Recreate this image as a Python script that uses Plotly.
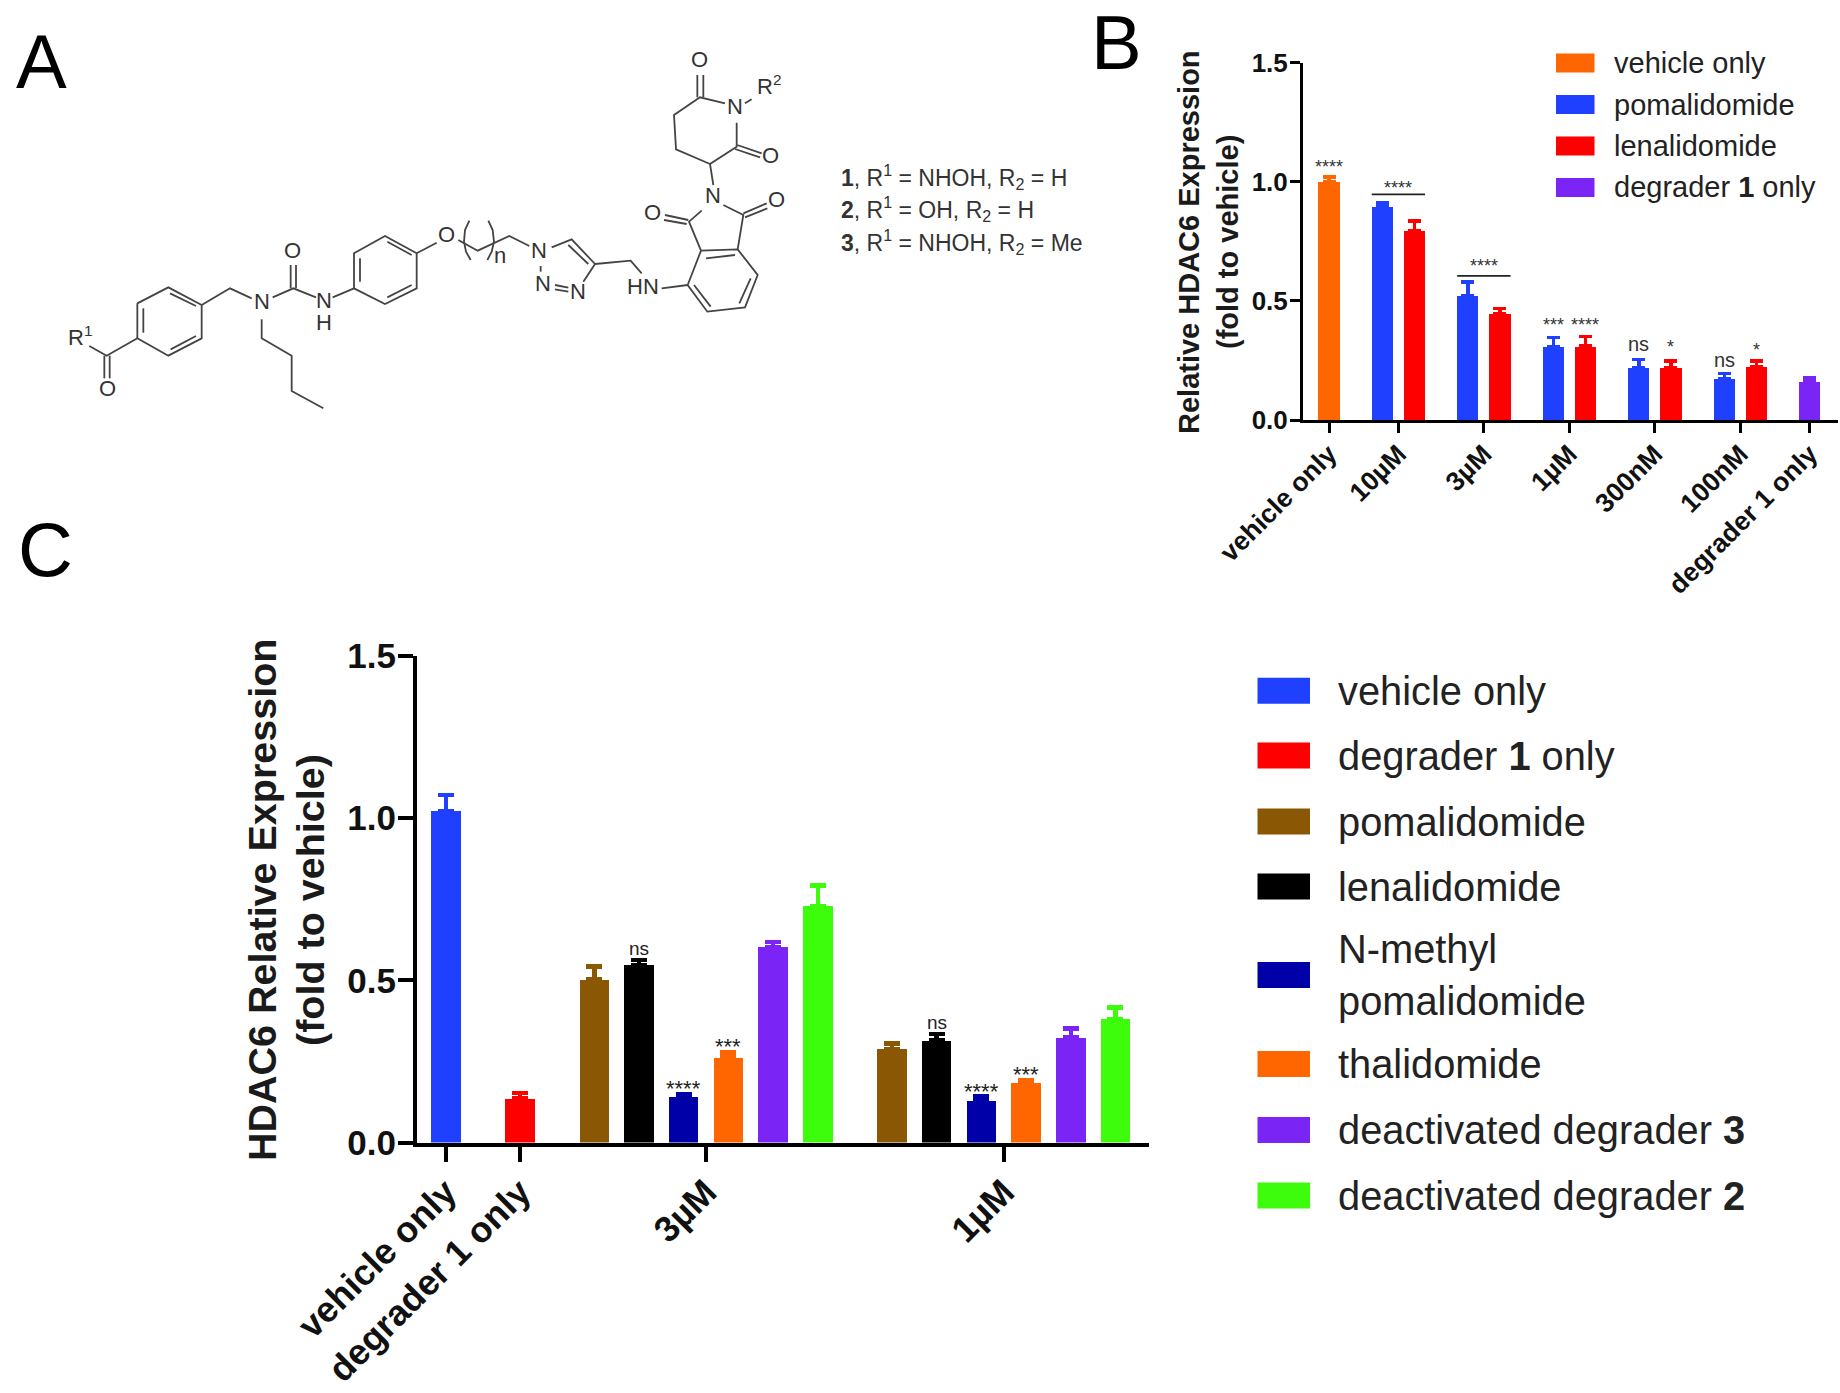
import plotly.graph_objects as go

W, H = 1840, 1393
FONT = "Liberation Sans"

# ---------- panel B data ----------
b_ticks = ["vehicle only", "10µM", "3µM", "1µM", "300nM", "100nM", "degrader 1 only"]
b_vehicle = [1.00]
b_vehicle_err = [0.02]
b_pom = [0.897, 0.521, 0.308, 0.219, 0.174]
b_pom_err = [0.016, 0.059, 0.039, 0.035, 0.022]
b_len = [0.794, 0.447, 0.310, 0.219, 0.223]
b_len_err = [0.040, 0.020, 0.040, 0.029, 0.025]
b_deg = [0.163]
b_deg_err = [0.015]
b_legend = ["vehicle only", "pomalidomide", "lenalidomide", "degrader <b>1</b> only"]

# ---------- panel C data ----------
c_ticks = ["vehicle only", "degrader 1 only", "3µM", "1µM"]
c_vehicle = [1.021]
c_vehicle_err = [0.050]
c_deg = [0.135]
c_deg_err = [0.018]
c_names = ["pomalidomide", "lenalidomide", "N-methyl pomalidomide", "thalidomide",
           "deactivated degrader 3", "deactivated degrader 2"]
c_3um = [0.502, 0.546, 0.139, 0.262, 0.603, 0.728]
c_3um_err = [0.041, 0.016, 0.011, 0.015, 0.015, 0.065]
c_1um = [0.287, 0.314, 0.129, 0.182, 0.323, 0.381]
c_1um_err = [0.018, 0.021, 0.013, 0.009, 0.028, 0.035]
c_legend = ["vehicle only", "degrader <b>1</b> only", "pomalidomide", "lenalidomide",
            "N-methyl<br>pomalidomide", "thalidomide",
            "deactivated degrader <b>3</b>", "deactivated degrader <b>2</b>"]

# ---------- colours ----------
ORANGE, BLUE, RED, PURPLE = "#ff6600", "#2040ff", "#ff0000", "#7a25f5"
BROWN, BLACK, NAVY, GREEN = "#8a5705", "#000000", "#0000a8", "#3dfc0c"
c_colors = [BROWN, BLACK, NAVY, ORANGE, PURPLE, GREEN]

GAP, BW = 1.66, 0.66
fig = go.Figure()


def add_bar(x, y, err, color, name, xa, ya, thick, cap):
    fig.add_trace(go.Bar(
        x=x, y=y, name=name, width=BW, xaxis=xa, yaxis=ya, marker=dict(color=color, line_width=0),
        error_y=dict(type="data", symmetric=False, array=err, arrayminus=[0] * len(err),
                     color=color, thickness=thick, width=cap),
        showlegend=False))


# panel B positions
bx_blue = [GAP + i * (1 + GAP) for i in range(5)]
bx_red = [v + 1 for v in bx_blue]
bx_deg = bx_red[-1] + GAP
b_tickx = [0] + [(a + b) / 2 for a, b in zip(bx_blue, bx_red)] + [bx_deg]
add_bar([0], b_vehicle, b_vehicle_err, ORANGE, "vehicle only", "x", "y", 3.5, 6.5)
add_bar(bx_blue, b_pom, b_pom_err, BLUE, "pomalidomide", "x", "y", 3.5, 6.5)
add_bar(bx_red, b_len, b_len_err, RED, "lenalidomide", "x", "y", 3.5, 6.5)
add_bar([bx_deg], b_deg, b_deg_err, PURPLE, "degrader 1 only", "x", "y", 3.5, 6.5)

# panel C positions
cx_3 = [2 * GAP + i for i in range(6)]
cx_1 = [v + 5 + GAP for v in cx_3]
c_tickx = [0, GAP, sum(cx_3) / 6, sum(cx_1) / 6]
add_bar([0], c_vehicle, c_vehicle_err, BLUE, "vehicle only", "x2", "y2", 4.5, 8)
add_bar([GAP], c_deg, c_deg_err, RED, "degrader 1 only", "x2", "y2", 4.5, 8)
for i, n in enumerate(c_names):
    add_bar([cx_3[i], cx_1[i]], [c_3um[i], c_1um[i]], [c_3um_err[i], c_1um_err[i]],
            c_colors[i], n, "x2", "y2", 4.5, 8)

# significance bars in panel B
for i, ylev in zip([0, 1], [0.947, 0.605]):
    fig.add_trace(go.Scatter(x=[bx_blue[i] - BW / 2, bx_red[i] + BW / 2], y=[ylev, ylev], mode="lines",
                             line=dict(color="#222222", width=1.8), xaxis="x", yaxis="y",
                             showlegend=False, hoverinfo="skip"))

# ---------- panel A: structure, as bond polylines read from crops ----------
# each crop: origin x, origin y; values in 3x crop pixels
bonds_left = [
    [(262, 280), (355, 232), (455, 285), (455, 385), (355, 437), (262, 385), (262, 280)],
    [(280, 295), (280, 368)], [(360, 250), (438, 288)], [(362, 418), (438, 378)],
    [(118, 408), (170, 437), (262, 385)], [(163, 437), (163, 505)], [(179, 437), (179, 505)],
    [(455, 285), (540, 235), (605, 265)],
    [(635, 328), (635, 385), (725, 437), (725, 543), (820, 595)],
    [(668, 262), (730, 235), (798, 262)], [(722, 235), (722, 165)], [(738, 235), (738, 165)],
    [(848, 262), (912, 235)],
    [(912, 235), (912, 130), (1005, 78), (1100, 130), (1100, 235), (1005, 282), (912, 235)],
    [(930, 215), (930, 145)], [(1012, 95), (1085, 135)], [(1012, 262), (1085, 225)],
    [(1100, 130), (1160, 98)],
    [(1225, 90), (1283, 122), (1378, 78), (1438, 108)],
    [(1258, 32), (1245, 60), (1242, 95), (1248, 125), (1262, 150)],
    [(1315, 32), (1328, 60), (1332, 95), (1325, 125), (1312, 150)],
]
bonds_mid = [
    [(122, 228), (122, 245)], [(165, 285), (205, 293)], [(165, 298), (205, 305)],
    [(250, 275), (285, 222), (215, 148), (155, 172)], [(265, 222), (205, 165)],
    [(285, 222), (392, 212), (425, 250)],
]
bonds_right = [
    [(125, 745), (203, 735)],
    [(243, 632), (353, 628), (413, 705), (375, 802), (262, 815), (203, 735), (243, 632)],
    [(258, 655), (345, 645)], [(392, 715), (358, 790)], [(222, 735), (272, 800)],
    [(245, 512), (207, 545), (243, 632)], [(353, 628), (370, 525), (310, 495)],
    [(205, 540), (135, 525)], [(200, 552), (132, 540)],
    [(370, 520), (440, 490)], [(375, 532), (442, 505)],
    [(280, 435), (270, 372), (350, 320), (350, 248)],
    [(315, 190), (240, 172), (162, 225), (168, 328), (270, 372)],
    [(232, 172), (232, 105)], [(250, 172), (250, 105)],
    [(352, 315), (425, 340)], [(345, 327), (420, 352)], [(375, 190), (395, 178)],
]
atoms_left = [("R<sup>1</sup>", 90, 378), ("O", 171, 535), ("N", 635, 275), ("O", 727, 120), ("N", 822, 272),
              ("H", 822, 338), ("O", 1190, 72), ("n", 1350, 135)]
atoms_mid = [("N", 118, 180), ("N", 130, 280), ("N", 235, 303), ("HN", 430, 288)]
atoms_right = [("N", 280, 465), ("O", 97, 517), ("O", 470, 478), ("O", 238, 58), ("N", 345, 200),
               ("O", 452, 347), ("R<sup>2</sup>", 447, 135)]
crops = [((50, 210), bonds_left, atoms_left), ((500, 190), bonds_mid, atoms_mid), ((620, 40), bonds_right, atoms_right)]
sx, sy = [], []
annots = []
for (ox, oy), bonds, atoms in crops:
    for b in bonds:
        sx += [ox + p[0] / 3 for p in b] + [None]
        sy += [oy + p[1] / 3 for p in b] + [None]
    for t, ax_, ay in atoms:
        annots.append(dict(text=t, x=ox + ax_ / 3, y=oy + ay / 3, xref="x3", yref="y3", showarrow=False,
                           font=dict(family=FONT, size=22, color="#333333")))
fig.add_trace(go.Scatter(x=sx, y=sy, mode="lines", line=dict(color="#444444", width=1.8), xaxis="x3", yaxis="y3",
                         showlegend=False, hoverinfo="skip", connectgaps=False))

compound_lines = ["<b>1</b>, R<sup>1</sup> = NHOH, R<sub>2</sub> = H",
                  "<b>2</b>, R<sup>1</sup> = OH, R<sub>2</sub> = H",
                  "<b>3</b>, R<sup>1</sup> = NHOH, R<sub>2</sub> = Me"]
for t, yy in zip(compound_lines, [177, 209, 242]):
    annots.append(dict(text=t, x=839, y=yy, xref="x3", yref="y3", xanchor="left", showarrow=False,
                       font=dict(family=FONT, size=23, color="#333333")))

# panel letters
for t, xx, yy in [("A", 41, 61), ("B", 1116, 42), ("C", 45, 549)]:
    annots.append(dict(text=t, x=xx, y=yy, xref="x3", yref="y3", showarrow=False,
                       font=dict(family=FONT, size=76, color="#000000")))

# manual legends
shapes = []
for t, c, yy in zip(b_legend, [ORANGE, BLUE, RED, PURPLE], [63, 104.6, 146, 187.4]):
    shapes.append(dict(type="rect", xref="x3", yref="y3", x0=1556, x1=1594.5, y0=yy - 9.5, y1=yy + 9.5,
                       fillcolor=c, line_width=0))
    annots.append(dict(text=t, x=1612, y=yy, xref="x3", yref="y3", xanchor="left", showarrow=False,
                       font=dict(family=FONT, size=29, color="#222222")))
for t, c, yy in zip(c_legend, [BLUE, RED, BROWN, BLACK, NAVY, ORANGE, PURPLE, GREEN],
                    [690.7, 755.5, 821.5, 886.5, 975, 1064, 1130, 1195.5]):
    shapes.append(dict(type="rect", xref="x3", yref="y3", x0=1257.5, x1=1310, y0=yy - 13, y1=yy + 13,
                       fillcolor=c, line_width=0))
    annots.append(dict(text=t, x=1336, y=yy, xref="x3", yref="y3", xanchor="left", align="left", showarrow=False,
                       font=dict(family=FONT, size=39.8, color="#222222")))

# axis titles
for t, xx, yy, s in [("Relative HDAC6 Expression", 1189, 242, 29), ("(fold to vehicle)", 1228, 242, 29),
                     ("HDAC6 Relative Expression", 262, 900, 39.5), ("(fold to vehicle)", 310, 900, 39.5)]:
    annots.append(dict(text=t, x=xx, y=yy, xref="x3", yref="y3", textangle=-90, showarrow=False,
                       font=dict(family=FONT, size=s, weight="bold", color="#1a1a1a")))

# significance labels
b_sig = [("****", 0, 1.06, 18), ("****", (bx_blue[0] + bx_red[0]) / 2, 0.975, 18),
         ("****", (bx_blue[1] + bx_red[1]) / 2, 0.645, 18),
         ("***", bx_blue[2], 0.40, 18), ("****", bx_red[2], 0.40, 18), ("ns", bx_blue[3], 0.32, 20), ("*", bx_red[3], 0.305, 18),
         ("ns", bx_blue[4], 0.25, 20), ("*", bx_red[4], 0.295, 18)]
for t, xx, yy, s in b_sig:
    annots.append(dict(text=t, x=xx, y=yy, xref="x", yref="y", showarrow=False,
                       font=dict(family=FONT, size=s, color="#333333")))
c_sig = [("ns", cx_3[1], 0.597, 19), ("***", cx_3[3], 0.296, 22), ("****", cx_3[2], 0.166, 22),
         ("ns", cx_1[1], 0.37, 19), ("****", cx_1[2], 0.156, 22), ("***", cx_1[3], 0.21, 22)]
for t, xx, yy, s in c_sig:
    annots.append(dict(text=t, x=xx, y=yy, xref="x2", yref="y2", showarrow=False,
                       font=dict(family=FONT, size=s, color="#222222")))


def px_x(a, b):
    return [a / W, b / W]


def px_y(top, bot):
    return [1 - bot / H, 1 - top / H]


def ax(size, lw, tl, standoff, **kw):
    return dict(showline=True, linecolor="#000000", linewidth=lw, ticks="outside", ticklen=tl, tickwidth=lw,
                tickcolor="#000000", showgrid=False, zeroline=False, automargin=False, ticklabelstandoff=standoff,
                tickfont=dict(family=FONT, size=size, weight="bold", color="#111111"), **kw)


fig.update_layout(
    width=W, height=H, margin=dict(l=0, r=0, t=0, b=0, pad=0), autosize=False, paper_bgcolor="white", plot_bgcolor="rgba(0,0,0,0)",
    bargap=0, barmode="overlay", annotations=annots, shapes=shapes,
    xaxis=ax(26.5, 3, 10, -5, domain=px_x(1303, 1838), range=[-0.809, 15.84], anchor="y", tickmode="array",
             tickvals=b_tickx, ticktext=b_ticks, tickangle=-45),
    yaxis=ax(26, 3, 10, -3, domain=px_y(62.5, 420), range=[0, 1.5], anchor="x", tickmode="array",
             tickvals=[0, 0.5, 1, 1.5], ticktext=["0.0", "0.5", "1.0", "1.5"]),
    xaxis2=ax(36, 4, 15, -5, domain=px_x(417, 1149), range=[-0.648, 15.73], anchor="y2", tickmode="array",
              tickvals=c_tickx, ticktext=c_ticks, tickangle=-45),
    yaxis2=ax(35, 4, 15, -5, domain=px_y(656, 1142.5), range=[0, 1.5], anchor="x2", tickmode="array",
              tickvals=[0, 0.5, 1, 1.5], ticktext=["0.0", "0.5", "1.0", "1.5"]),
    xaxis3=dict(domain=[0, 1], range=[0, W], visible=False, anchor="y3", fixedrange=True, automargin=False),
    yaxis3=dict(domain=[0, 1], range=[H, 0], visible=False, anchor="x3", fixedrange=True, automargin=False),
)
fig.write_html("out.html", config={"displayModeBar": False},
               post_script="document.body.style.margin='0';document.body.style.overflow='hidden';")
